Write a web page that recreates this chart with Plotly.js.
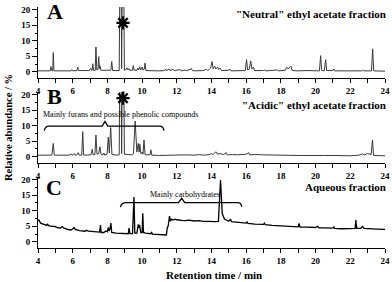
<!DOCTYPE html>
<html><head><meta charset="utf-8">
<script src="https://cdn.plot.ly/plotly-3.0.1.min.js"></script>
<style>html,body{margin:0;padding:0;background:#fff}#c{width:392px;height:282px}</style>
</head><body><div id="c"></div>
<script>
// Panel A: "Neutral" ethyl acetate fraction
const timeA = [4.0,4.70,4.75,4.80,4.85,4.88,4.92,5.50,5.90,5.95,6.00,6.25,6.29,6.34,6.95,7.04,7.09,7.12,7.16,7.20,7.30,7.34,7.39,7.46,7.50,7.54,7.57,7.62,8.10,8.20,8.25,8.30,8.68,8.76,8.82,8.90,8.98,9.05,9.12,9.18,9.25,9.30,9.45,9.49,9.54,9.70,9.75,9.80,9.86,9.92,10.00,10.05,10.12,10.17,10.22,10.60,11.00,11.30,11.35,11.40,11.55,11.60,11.80,11.85,12.20,12.25,12.50,12.55,12.85,12.90,13.00,13.50,13.72,13.78,13.95,14.03,14.10,14.18,14.25,14.35,14.42,14.50,14.58,15.00,15.05,15.12,15.50,15.95,16.02,16.08,16.18,16.26,16.33,16.42,16.48,17.00,17.05,17.10,17.40,17.80,17.85,18.25,18.33,18.40,18.50,18.58,18.65,19.00,19.50,20.00,20.22,20.29,20.35,20.50,20.58,20.64,21.00,21.05,21.10,22.00,22.70,22.75,22.80,23.22,23.29,23.35,24.00];
const abundA = [0.3,0.3,1.7,0.3,0.3,6.2,0.3,0.4,0.3,0.7,0.3,0.4,1.5,0.4,0.4,1.1,0.4,0.5,2.6,0.5,0.5,8.0,0.6,0.8,4.9,1.0,2.0,0.5,0.4,0.5,3.3,0.4,0.4,60,1.0,60,0.5,0.6,1.3,0.6,1.0,0.5,0.5,2.0,0.5,0.5,1.2,0.6,1.6,0.6,1.5,0.6,0.8,2.8,0.4,0.3,0.3,0.4,0.9,0.4,0.9,0.4,0.8,0.4,0.7,0.3,0.6,0.3,1.0,0.4,0.3,0.4,0.8,0.4,1.2,3.3,1.0,1.8,0.9,1.5,0.7,1.2,0.4,0.5,0.9,0.3,0.3,0.4,3.9,0.6,0.8,3.5,0.9,1.5,0.4,0.4,0.7,0.3,0.4,0.6,0.3,0.5,1.5,1.0,1.3,1.8,0.4,0.3,0.4,0.3,0.3,5.2,0.5,0.3,3.9,0.4,0.4,0.9,0.3,0.3,0.3,0.6,0.3,0.3,7.4,0.3,0.2];

// Panel B: "Acidic" ethyl acetate fraction
const timeB = [4.00,4.80,4.88,4.94,5.80,5.90,5.95,6.05,6.10,6.15,6.25,6.32,6.38,6.52,6.58,6.63,7.05,7.13,7.18,7.28,7.34,7.40,7.50,7.57,7.63,7.75,7.80,7.85,7.98,8.05,8.11,8.19,8.26,8.50,8.68,8.76,8.82,8.90,8.98,9.20,9.40,9.50,9.60,9.70,9.78,9.83,9.87,9.93,10.00,10.05,10.11,10.17,10.45,10.51,10.56,11.00,11.50,12.00,12.50,13.00,13.30,13.50,13.80,14.00,14.10,14.25,14.35,14.50,14.70,14.85,14.90,15.20,15.50,16.00,16.15,16.20,16.50,17.00,17.50,18.00,18.50,19.00,19.50,20.00,20.50,21.00,21.50,22.00,22.50,22.70,22.80,23.00,23.20,23.28,23.34,24.00];
const abundB = [0.5,0.5,4.3,0.5,0.5,0.9,0.5,0.6,1.0,0.5,0.6,1.3,0.5,0.5,8.1,0.5,0.6,2.4,0.6,0.7,7.0,0.8,1.0,3.2,0.8,0.6,1.2,0.5,0.8,6.3,1.2,9.4,0.8,0.5,0.6,60,1.0,60,0.8,0.7,0.6,0.9,11.5,1.5,4.3,1.5,4.0,1.0,1.5,0.8,5.4,0.7,0.6,2.2,0.5,0.4,0.5,0.4,0.6,0.5,0.7,0.5,0.6,1.0,0.7,1.6,0.8,1.0,0.7,1.3,0.6,0.7,0.6,0.8,1.3,0.6,0.7,0.6,0.5,0.6,0.5,0.4,0.4,0.5,0.4,0.4,0.3,0.3,0.5,0.9,0.6,1.0,0.7,5.4,0.4,0.3];

// Panel C: Aqueous fraction
const timeC = [4.00,4.05,4.15,4.30,4.50,4.55,4.60,4.80,5.00,5.10,5.30,5.40,5.50,5.70,5.90,6.00,6.08,6.15,6.40,6.70,6.80,6.90,7.10,7.30,7.45,7.55,7.60,7.64,7.80,7.90,8.00,8.05,8.10,8.15,8.20,8.25,8.50,8.80,9.00,9.20,9.25,9.30,9.45,9.53,9.58,9.70,9.78,9.82,9.86,9.92,10.00,10.04,10.08,10.20,10.50,10.55,10.60,11.00,11.20,11.40,11.45,11.50,11.58,11.63,11.70,11.78,11.90,12.00,12.30,12.50,12.70,13.00,13.30,13.50,13.80,14.00,14.20,14.40,14.52,14.62,14.75,15.00,15.10,15.15,15.50,16.00,16.05,16.10,16.50,17.00,17.05,17.10,17.50,18.00,18.50,19.00,19.05,19.10,19.50,20.00,20.10,20.20,20.50,21.00,21.05,21.10,21.50,22.00,22.28,22.32,22.37,22.60,22.70,22.80,23.00,23.50,24.00];
const abundC = [6.8,7.0,6.0,5.6,5.3,5.8,5.2,5.0,4.9,4.6,4.4,4.9,4.4,4.0,3.8,4.1,4.6,4.0,3.6,3.4,3.7,3.4,3.3,3.3,3.1,3.1,5.4,3.0,3.0,3.5,3.2,4.6,3.5,4.2,6.0,3.0,2.8,2.7,2.6,2.6,4.4,2.6,2.6,14.4,2.8,2.8,5.6,4.5,5.4,3.0,3.0,9.2,3.0,2.8,2.6,3.0,2.5,2.3,2.2,2.2,4.5,5.0,8.3,6.6,7.3,7.0,7.3,7.1,6.9,6.8,7.0,6.7,6.8,6.6,6.6,6.5,6.5,6.6,19.9,9.0,7.3,6.6,7.3,6.5,6.3,6.0,6.4,5.9,5.7,5.6,6.0,5.5,5.3,5.1,5.0,4.8,5.9,4.7,4.7,4.6,5.0,4.5,4.5,4.4,4.9,4.3,4.2,4.3,4.3,7.0,4.3,4.3,4.9,4.3,4.2,4.1,4.0];

// Marked (*) peak positions
const starTime = [8.9];
const starA = [15.8];
const starB = [18.9];

const xTickVals = [4,6,8,10,12,14,16,18,20,22,24];
const yTickVals = [0,5,10,15,20];

const SERIF = 'Liberation Serif, Times New Roman, serif';
const tf = {family: SERIF, size: 9, color: '#000', weight: 'bold'};

function xa(anchor){
  return {range:[4,24], anchor:anchor, tickvals:xTickVals, ticks:'outside', ticklen:4, tickwidth:1,
    minor:{dtick:1, tick0:0, ticks:'outside', ticklen:4, tickwidth:1, tickcolor:'#000', showgrid:false},
    showline:true, linecolor:'#000', linewidth:1, showgrid:false, zeroline:false, tickfont:tf, tickcolor:'#000'};
}
function ya(dom, anchor){
  return {domain:dom, anchor:anchor, range:[-2,20.9], tickvals:yTickVals, ticks:'outside', ticklen:5, tickwidth:1,
    minor:{dtick:2.5, tick0:0, ticks:'outside', ticklen:2, tickwidth:1, tickcolor:'#000', showgrid:false},
    showline:true, linecolor:'#000', linewidth:1, showgrid:false, zeroline:false, tickfont:tf, tickcolor:'#000'};
}

const starMarker = {symbol:'asterisk-open', size:11, color:'#000', line:{color:'#000', width:2.2}};
const data = [
  {x:timeA, y:abundA, xaxis:'x', yaxis:'y', mode:'lines', line:{color:'#3a3a3a', width:1}, hoverinfo:'skip'},
  {x:timeB, y:abundB, xaxis:'x2', yaxis:'y2', mode:'lines', line:{color:'#3a3a3a', width:1}, hoverinfo:'skip'},
  {x:timeC, y:abundC, xaxis:'x3', yaxis:'y3', mode:'lines', line:{color:'#000', width:1.3}, hoverinfo:'skip'},
  {x:starTime, y:starA, xaxis:'x', yaxis:'y', mode:'markers', marker:starMarker, cliponaxis:false},
  {x:starTime, y:starB, xaxis:'x2', yaxis:'y2', mode:'markers', marker:starMarker, cliponaxis:false}
];

const px = p => (p-38)/347;
const py = p => (248-p)/241;
function ann(text, x, y, size, xanchor, extra){
  return Object.assign({text:text, x:px(x), y:py(y), xref:'paper', yref:'paper', showarrow:false,
    xanchor:xanchor||'center', yanchor:'middle', font:{family:SERIF, size:size, color:'#000', weight:'bold'}}, extra||{});
}

const layout = {
  width:392, height:282, showlegend:false,
  margin:{l:38, r:7, t:7, b:34},
  paper_bgcolor:'#fff', plot_bgcolor:'#fff',
  xaxis: xa('y'), yaxis: ya([0.7054,1],'x'),
  xaxis2: xa('y2'), yaxis2: ya([0.3531,0.6473],'x2'),
  xaxis3: xa('y3'), yaxis3: ya([0,0.295],'x3'),
  annotations:[
    ann('A', 45, 11, 22, 'left'),
    ann('B', 45, 96, 22, 'left'),
    ann('C', 44, 187, 22, 'left'),
    ann('"Neutral" ethyl acetate fraction', 388, 14, 11, 'right'),
    ann('"Acidic" ethyl acetate fraction', 388, 105, 11, 'right'),
    ann('Aqueous fraction', 388, 187, 11, 'right'),
    ann('Mainly furans and possible phenolic compounds', 41, 114, 8, 'left', {font:{family:SERIF, size:8, color:'#000'}}),
    ann('Mainly carbohydrates', 185, 194, 8, 'center', {font:{family:SERIF, size:8, color:'#000'}}),
    ann('Retention time / min', 214, 275, 11, 'center'),
    ann('Relative abundance / %', 8, 128, 10.5, 'center', {textangle:-90})
  ],
  shapes:[
    {type:'path', xref:'x2', yref:'y2', path:'M 4.36,8.4 Q 4.4,9.9 4.65,9.9 L 7.7,9.9 L 7.86,11.4 L 8.02,9.9 L 11.0,9.9 Q 11.22,9.9 11.26,8.4', line:{color:'#000', width:1.3}},
    {type:'path', xref:'x3', yref:'y3', path:'M 8.75,11.2 Q 8.8,12.6 9.1,12.6 L 12.1,12.6 L 12.28,14.0 L 12.46,12.6 L 15.5,12.6 Q 15.72,12.6 15.74,11.3', line:{color:'#000', width:1.3}}
  ]
};

Plotly.newPlot('c', data, layout, {staticPlot:true, displayModeBar:false});
</script>
</body></html>
